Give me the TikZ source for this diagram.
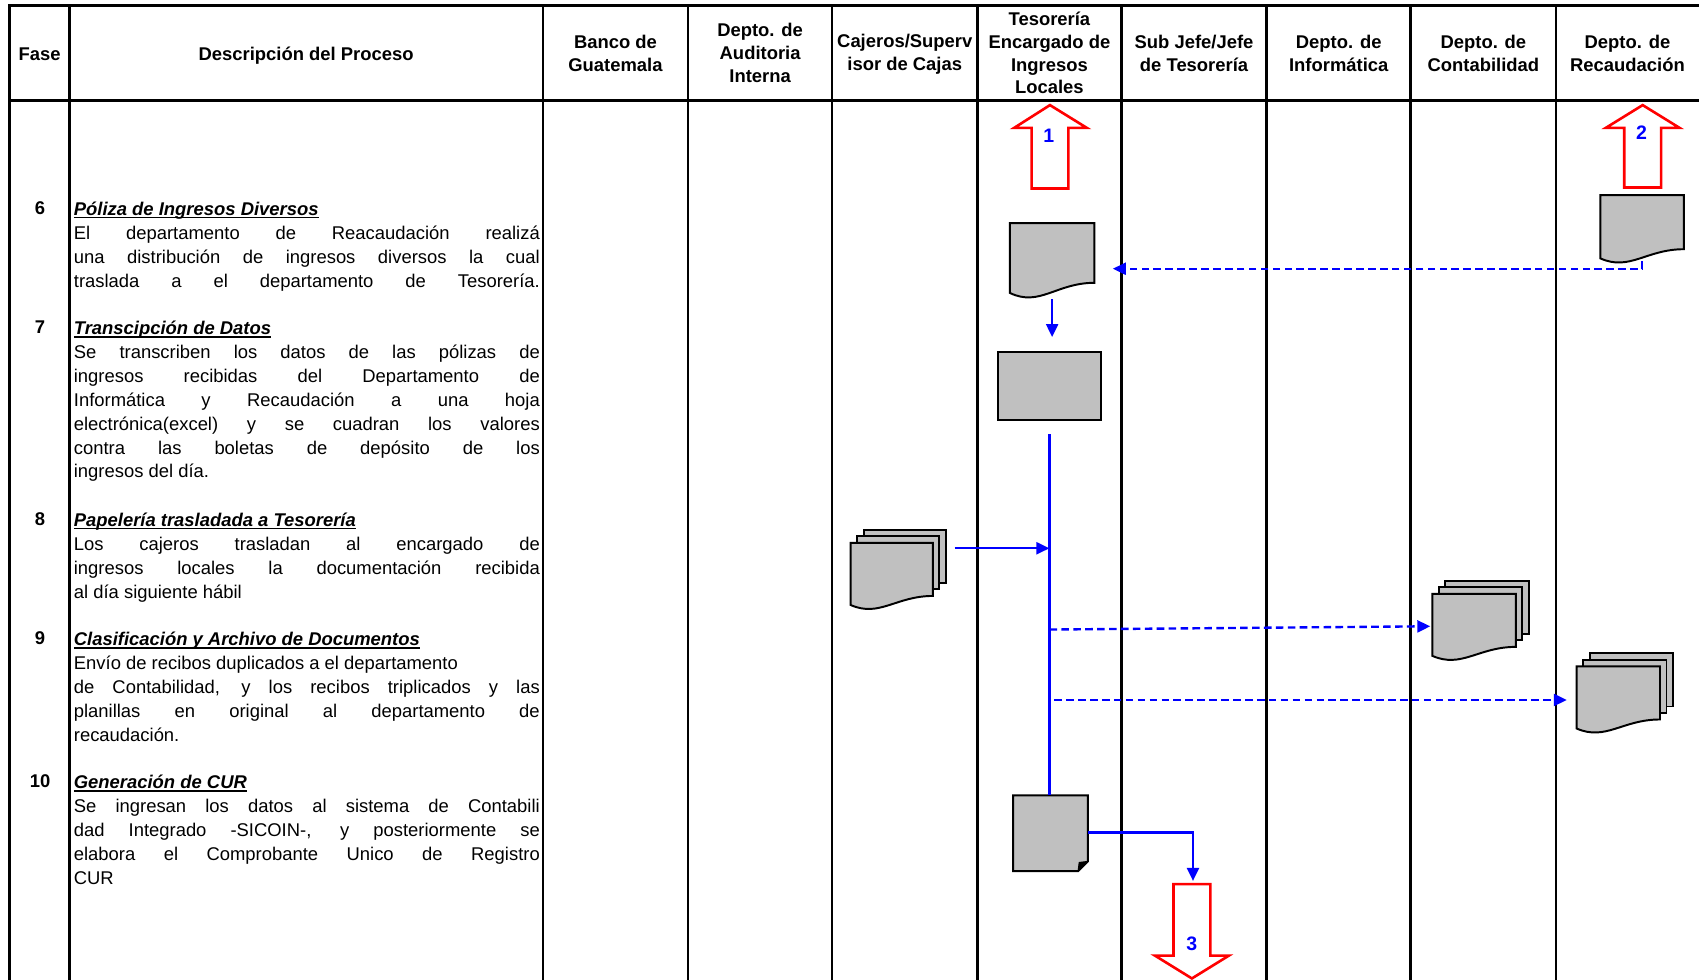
\documentclass[tikz,border=0pt]{standalone}
\usepackage{fontspec}
\setmainfont{Liberation Sans}
\usetikzlibrary{arrows.meta}

\definecolor{sheetgray}{RGB}{192,192,192}
\definecolor{flowblue}{RGB}{0,0,255}
\definecolor{exitred}{RGB}{255,0,0}

% one justified line of the description column
\newcommand{\jline}[1]{\makebox[430pt][s]{#1}}
% underlined bold italic phase title
\newcommand{\phasetitle}[1]{\leavevmode\setbox0\hbox{\bfseries\itshape #1}\rlap{\rule[-2.6pt]{\wd0}{1.2pt}}\box0}
% description block, first baseline at the node's base
\newcommand{\desc}[1]{\parbox[t]{430pt}{\fontsize{17}{22}\selectfont #1}}

\tikzset{
  rule/.style={line width=2.4pt, black, line join=miter},
  hdr/.style={font=\fontsize{17}{21}\selectfont\bfseries, align=center, inner sep=0pt},
  num/.style={font=\fontsize{17}{22}\selectfont\bfseries, inner sep=0pt, anchor=base},
  para/.style={inner sep=0pt, anchor=base west},
  sheet/.style={draw=black, fill=sheetgray, line width=1.8pt, line join=miter},
  procbox/.style={sheet, minimum width=95pt, minimum height=63pt, inner sep=0pt},
  flowline/.style={draw=flowblue, line width=2.2pt},
  flow/.style={flowline, -{Triangle[length=12pt,width=11pt]}},
  dashflow/.style={flow, dash pattern=on 7pt off 4pt},
  bigarrow/.style={draw=exitred, line width=2.4pt, fill=white, line join=miter},
  tag/.style={font=\fontsize{18}{18}\selectfont\bfseries, text=flowblue, inner sep=0pt},
  % single document with wavy bottom edge (width/height to right corner)
  pics/doc/.style args={#1/#2}{code={
    \path[sheet] (0,0) -- (#1,0) -- (#1,#2)
      .. controls ({0.55*#1},#2) and ({0.35*#1},{1.41*#2}) .. (0,{1.17*#2}) -- cycle;
    \coordinate (-n) at ({0.5*#1},0);
    \coordinate (-s) at ({0.5*#1},{1.22*#2});
  }},
  % stack of three documents
  pics/mdoc/.style args={#1/#2}{code={
    \path[sheet] (12,-12) rectangle ++(#1,#2);
    \path[sheet] (6,-6) rectangle ++(#1,#2);
    \path[sheet] (0,0) -- (#1,0) -- (#1,#2)
      .. controls ({0.55*#1},#2) and ({0.35*#1},{1.41*#2}) .. (0,{1.17*#2}) -- cycle;
  }},
  % page with a folded lower right corner
  pics/note/.style args={#1/#2}{code={
    \path[sheet] (0,0) -- (#1,0) -- (#1,{#2-9}) -- ({#1-9},#2) -- (0,#2) -- cycle;
    \path[fill=black, draw=black, line width=1pt, line join=round]
      (#1,{#2-9}) -- ({#1-9},#2) -- ({#1-8},{#2-8}) -- cycle;
    \coordinate (-n) at ({0.5*#1},0);
    \coordinate (-e) at (#1,{0.49*#2});
  }},
}

\begin{document}
\begin{tikzpicture}[x=1pt,y=-1pt]
\useasboundingbox (0,0) rectangle (1568,904);

% table frame and swimlane dividers
\draw[rule] (9,908) -- (9,5) -- (1570,5);
\draw[rule] (9,93) -- (1570,93);
\foreach \x in {64,501,635,768,902,1035,1169,1302,1436}
  \draw[rule] (\x,5) -- (\x,908);

% column headers
\node[hdr] (hFase)  at (36.5,50)   {Fase};
\node[hdr] (hDesc)  at (282.5,51)  {Descripción del Proceso};
\node[hdr] (hBanco) at (568,49)    {Banco de\\Guatemala};
\node[hdr] (hAud)   at (701.5,49)  {Depto. de\\Auditoria\\Interna};
\node[hdr] (hCaj)   at (835,50)    {Cajeros/Superv\\isor de Cajas};
\node[hdr] (hTes)   at (968.5,49)  {Tesorería\\Encargado de\\Ingresos\\Locales};
\node[hdr] (hSub)   at (1102,49)   {Sub Jefe/Jefe\\de Tesorería};
\node[hdr] (hInf)   at (1235.5,49) {Depto. de\\Informática};
\node[hdr] (hCon)   at (1369,49)   {Depto. de\\Contabilidad};
\node[hdr] (hRec)   at (1502,49)   {Depto. de\\Recaudación};

% phase numbers
\node[num] (f6)  at (37,198) {6};
\node[num] (f7)  at (37,308) {7};
\node[num] (f8)  at (37,485) {8};
\node[num] (f9)  at (37,595) {9};
\node[num] (f10) at (37,727) {10};

% phase descriptions
\node[para] (d6) at (68,199) {\desc{%
  \phasetitle{Póliza de Ingresos Diversos}\\
  \jline{El departamento de Reacaudación realizá}\\
  \jline{una distribución de ingresos diversos la cual}\\
  \jline{traslada a el departamento de Tesorería.}}};
\node[para] (d7) at (68,309) {\desc{%
  \phasetitle{Transcipción de Datos}\\
  \jline{Se transcriben los datos de las pólizas de}\\
  \jline{ingresos recibidas del Departamento de}\\
  \jline{Informática y Recaudación a una hoja}\\
  \jline{electrónica(excel) y se cuadran los valores}\\
  \jline{contra las boletas de depósito de los}\\
  ingresos del día.}};
\node[para] (d8) at (68,486) {\desc{%
  \phasetitle{Papelería trasladada a Tesorería}\\
  \jline{Los cajeros trasladan al encargado de}\\
  \jline{ingresos locales la documentación recibida}\\
  al día siguiente hábil}};
\node[para] (d9) at (68,596) {\desc{%
  \phasetitle{Clasificación y Archivo de Documentos}\\
  Envío de recibos duplicados a el departamento\\
  \jline{de Contabilidad, y los recibos triplicados y las}\\
  \jline{planillas en original al departamento de}\\
  recaudación.}};
\node[para] (d10) at (68,728) {\desc{%
  \phasetitle{Generación de CUR}\\
  \jline{Se ingresan los datos al sistema de Contabili}\\
  \jline{dad Integrado -SICOIN-, y posteriormente se}\\
  \jline{elabora el Comprobante Unico de Registro}\\
  CUR}};

% off-page connectors
\draw[bigarrow] (969,97) -- (1003,118) -- (986,118) -- (986,174) -- (952,174) -- (952,118) -- (936,118) -- cycle;
\node[tag] (n1) at (968,125) {1};
\draw[bigarrow] (1516,97) -- (1550,118) -- (1533,118) -- (1533,173) -- (1499,173) -- (1499,118) -- (1482,118) -- cycle;
\node[tag] (n2) at (1515,122) {2};
\draw[bigarrow] (1083,816) -- (1117,816) -- (1117,882) -- (1134,882) -- (1100,903) -- (1066,882) -- (1083,882) -- cycle;
\node[tag] (n3) at (1100,871) {3};
\coordinate (a3top) at (1101,813);

% documents and process
\pic (dB) at (1477,180) {doc=77/50};
\pic (dA) at (932,206) {doc=78/55};
\node[procbox] (pr) at (968.5,356.5) {};
\pic (sC) at (785,501) {mdoc=76/49};
\pic (sD) at (1322,548) {mdoc=77/49};
\pic (sE) at (1455,615) {mdoc=77/49};
\pic (dF) at (935,734) {note=69/70};

% connection points
\coordinate (c6) at (1027,248);
\coordinate (c8) at (881,506);
\coordinate (c9a) at (968.5,581);
\coordinate (c9b) at (1320,578);
\coordinate (c9c) at (973,646);
\coordinate (c9d) at (1446,646);

% flow
\draw[dashflow] (dB-s) |- (c6);
\draw[flow, shorten <=3pt, shorten >=13pt] (dA-s) -- (dA-s |- pr.north);
\draw[flowline] ([yshift=-12pt]pr.south) -- (pr.south |- dF-n);
\draw[flow] (c8) -- (c8 -| pr.south);
\draw[dashflow] (c9a) -- (c9b);
\draw[dashflow] (c9c) -- (c9d);
\draw[flow] (dF-e) -| (a3top);
\end{tikzpicture}
\end{document}
